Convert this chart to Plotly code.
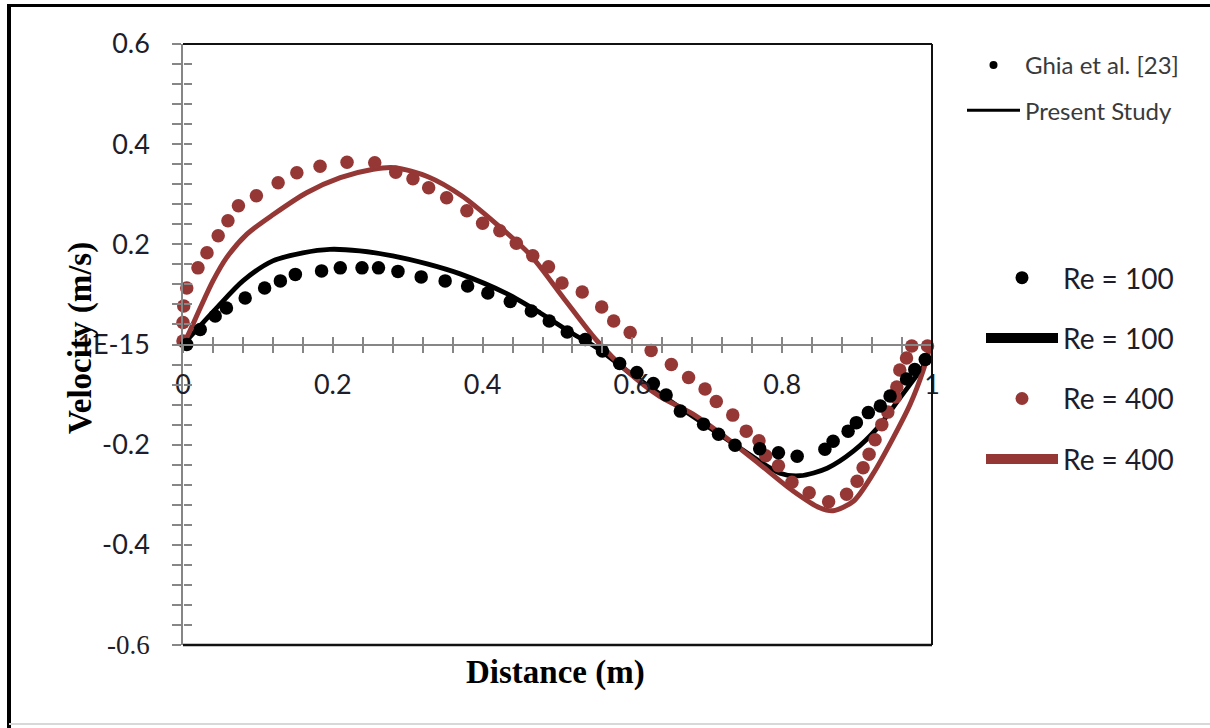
import plotly.graph_objects as go

# ---------------- data ----------------
ghia100_x = [0.005, 0.023, 0.043, 0.058, 0.083, 0.109, 0.130, 0.150, 0.185, 0.210, 0.239, 0.261,
             0.287, 0.318, 0.350, 0.380, 0.407, 0.437, 0.465, 0.489, 0.513, 0.537, 0.560, 0.583,
             0.606, 0.628, 0.645, 0.664, 0.695, 0.715, 0.737, 0.770, 0.795, 0.820, 0.857, 0.868,
             0.888, 0.899, 0.915, 0.931, 0.944, 0.966, 0.977, 0.991]
ghia100_y = [0.000, 0.030, 0.057, 0.073, 0.093, 0.113, 0.127, 0.140, 0.147, 0.153, 0.153, 0.153,
             0.146, 0.135, 0.127, 0.117, 0.103, 0.086, 0.067, 0.047, 0.025, 0.010, -0.013, -0.038,
             -0.056, -0.078, -0.101, -0.133, -0.159, -0.179, -0.201, -0.208, -0.216, -0.223, -0.209, -0.193,
             -0.173, -0.156, -0.136, -0.123, -0.103, -0.069, -0.050, -0.030]

present100_x = [0.000, 0.013, 0.045, 0.080, 0.120, 0.160, 0.196, 0.236, 0.280, 0.326, 0.370, 0.433,
                0.477, 0.521, 0.553, 0.593, 0.637, 0.690, 0.744, 0.797, 0.824, 0.860, 0.895, 0.927,
                0.957, 0.984, 0.997]
present100_y = [0.000, 0.021, 0.073, 0.127, 0.167, 0.183, 0.190, 0.187, 0.177, 0.161, 0.141, 0.101,
                0.063, 0.021, -0.007, -0.053, -0.099, -0.153, -0.207, -0.257, -0.262, -0.247, -0.213, -0.167,
                -0.107, -0.053, -0.027]

ghia400_x = [0.000, 0.000, 0.001, 0.005, 0.020, 0.032, 0.047, 0.060, 0.074, 0.098, 0.127, 0.152,
             0.183, 0.219, 0.256, 0.284, 0.307, 0.328, 0.352, 0.379, 0.400, 0.423, 0.445, 0.467,
             0.488, 0.506, 0.533, 0.559, 0.575, 0.597, 0.625, 0.652, 0.675, 0.697, 0.712, 0.734,
             0.752, 0.769, 0.778, 0.795, 0.813, 0.836, 0.862, 0.886, 0.900, 0.908, 0.916, 0.924,
             0.933, 0.941, 0.951, 0.953, 0.957, 0.966, 0.973, 0.994]
ghia400_y = [0.007, 0.044, 0.077, 0.113, 0.153, 0.183, 0.217, 0.247, 0.277, 0.297, 0.323, 0.343,
             0.356, 0.364, 0.363, 0.344, 0.331, 0.313, 0.293, 0.267, 0.242, 0.227, 0.202, 0.177,
             0.155, 0.123, 0.105, 0.075, 0.047, 0.024, -0.012, -0.040, -0.066, -0.089, -0.114, -0.141,
             -0.173, -0.192, -0.222, -0.242, -0.275, -0.296, -0.314, -0.299, -0.273, -0.246, -0.219, -0.190,
             -0.160, -0.135, -0.105, -0.085, -0.051, -0.027, -0.003, -0.003]

present400_x = [0.000, 0.007, 0.023, 0.040, 0.058, 0.085, 0.121, 0.165, 0.210, 0.254, 0.283, 0.327,
                0.372, 0.419, 0.463, 0.508, 0.553, 0.593, 0.636, 0.681, 0.726, 0.770, 0.815, 0.850,
                0.868, 0.895, 0.921, 0.948, 0.971, 0.988, 0.997]
present400_y = [0.000, 0.020, 0.073, 0.127, 0.173, 0.220, 0.260, 0.303, 0.333, 0.350, 0.353, 0.335,
                0.297, 0.240, 0.180, 0.093, 0.007, -0.053, -0.103, -0.139, -0.187, -0.239, -0.293, -0.326,
                -0.332, -0.313, -0.259, -0.187, -0.119, -0.053, -0.007]

x_tickvals = [0, 0.2, 0.4, 0.6, 0.8, 1.0]
x_ticktext = ["0", "0.2", "0.4", "0.6", "0.8", "1"]
y_tickvals = [0.6, 0.4, 0.2, 0.0, -0.2, -0.4, -0.6]
y_ticktext = ["0.6", "0.4", "0.2", "1E-15", "-0.2", "-0.4",
              "<span style='font-family:Liberation Serif'>-0.6</span>"]

# ---------------- layout geometry (pixels) ----------------
W, H = 1210, 728
L, R, T, B = 183, 932, 44, 645
BROWN = "#953735"
GREY = "#868686"
SANS = "Lato, Open Sans, sans-serif"
TICKFONT = dict(family=SANS, size=27, color="#1d1d2b")


def px(xp):
    return (xp - L) / (R - L)


def py(yp):
    return (B - yp) / (B - T)


fig = go.Figure()

# data traces
fig.add_trace(go.Scatter(x=present100_x, y=present100_y, mode="lines", showlegend=False,
                         line=dict(color="black", width=4.8, shape="spline", smoothing=0.8),
                         cliponaxis=False))
fig.add_trace(go.Scatter(x=present400_x, y=present400_y, mode="lines", showlegend=False,
                         line=dict(color=BROWN, width=5, shape="spline", smoothing=0.8),
                         cliponaxis=False))
fig.add_trace(go.Scatter(x=ghia400_x, y=ghia400_y, mode="markers", showlegend=False,
                         marker=dict(color=BROWN, size=13.5), cliponaxis=False))
fig.add_trace(go.Scatter(x=ghia100_x, y=ghia100_y, mode="markers", showlegend=False,
                         marker=dict(color="black", size=13.5), cliponaxis=False))
# empty trace so the overlaid tick axes (crossing ticks) are drawn
fig.add_trace(go.Scatter(x=[None], y=[None], xaxis="x2", yaxis="y2", showlegend=False,
                         hoverinfo="skip"))

# legend 1 entries
fig.add_trace(go.Scatter(x=[None], y=[None], mode="markers", name="Ghia et al. [23]",
                         marker=dict(color="black", size=8), legend="legend", legendgroup="a"))
fig.add_trace(go.Scatter(x=[None], y=[None], mode="lines", name="Present Study",
                         line=dict(color="black", width=3), legend="legend", legendgroup="b"))
# legend 2 entries
fig.add_trace(go.Scatter(x=[None], y=[None], mode="markers", name="Re = 100",
                         marker=dict(color="black", size=13), legend="legend2", legendgroup="c"))
fig.add_trace(go.Scatter(x=[None], y=[None], mode="lines", name="Re = 100",
                         line=dict(color="black", width=10), legend="legend2", legendgroup="d"))
fig.add_trace(go.Scatter(x=[None], y=[None], mode="markers", name="Re = 400",
                         marker=dict(color=BROWN, size=13), legend="legend2", legendgroup="e"))
fig.add_trace(go.Scatter(x=[None], y=[None], mode="lines", name="Re = 400",
                         line=dict(color=BROWN, width=10), legend="legend2", legendgroup="f"))

fig.update_layout(
    width=W, height=H,
    margin=dict(l=L, r=W - R, t=T, b=H - B),
    paper_bgcolor="white", plot_bgcolor="white",
    xaxis=dict(range=[0, 1], anchor="free", position=0.5, showline=True, linecolor=GREY, linewidth=1.5,
               tickmode="array", tickvals=x_tickvals, ticktext=x_ticktext, ticks="outside",
               ticklen=8, tickwidth=1.5, tickcolor=GREY, tickfont=TICKFONT, ticklabelstandoff=8,
               minor=dict(dtick=0.04, tick0=0, ticks="outside", ticklen=8, tickwidth=1.5, tickcolor=GREY),
               showgrid=False, zeroline=False),
    xaxis2=dict(range=[0, 1], overlaying="x", anchor="free", position=0.5, showline=False,
                tickmode="array", tickvals=x_tickvals, ticks="inside", ticklen=8, tickwidth=1.5,
                tickcolor=GREY, showticklabels=False,
                minor=dict(dtick=0.04, tick0=0, ticks="inside", ticklen=8, tickwidth=1.5, tickcolor=GREY),
                showgrid=False, zeroline=False),
    yaxis=dict(range=[-0.6, 0.6], showline=True, linecolor=GREY, linewidth=1.5,
               tickmode="array", tickvals=y_tickvals, ticktext=y_ticktext, ticks="outside",
               ticklen=9, tickwidth=1.5, tickcolor=GREY, tickfont=TICKFONT, ticklabelstandoff=17,
               minor=dict(dtick=0.04, tick0=0, ticks="outside", ticklen=9, tickwidth=1.5, tickcolor=GREY),
               showgrid=False, zeroline=False),
    yaxis2=dict(range=[-0.6, 0.6], overlaying="y", anchor="free", position=0, side="left", showline=False,
                tickmode="array", tickvals=y_tickvals, ticks="inside", ticklen=8, tickwidth=1.5,
                tickcolor=GREY, showticklabels=False,
                minor=dict(dtick=0.04, tick0=0, ticks="inside", ticklen=8, tickwidth=1.5, tickcolor=GREY),
                showgrid=False, zeroline=False),
    legend=dict(x=px(962), y=py(43), xanchor="left", yanchor="top", itemwidth=53,
                font=dict(family=SANS, size=24, color="#3a3a3a"),
                bgcolor="rgba(0,0,0,0)", tracegroupgap=11, traceorder="grouped"),
    legend2=dict(x=px(981), y=py(253), xanchor="left", yanchor="top", itemwidth=72,
                 font=dict(family=SANS, size=28, color="#1d1d2b"),
                 bgcolor="rgba(0,0,0,0)", tracegroupgap=21, traceorder="grouped"),
    annotations=[
        dict(text="Distance (m)", x=px(555), y=py(672), xref="paper", yref="paper",
             showarrow=False, xanchor="center", yanchor="middle",
             font=dict(family="Liberation Serif", size=33, color="black", weight="bold")),
        dict(text="Velocity (m/s)", x=px(80), y=py(338), xref="paper", yref="paper",
             showarrow=False, xanchor="center", yanchor="middle", textangle=-90,
             font=dict(family="Liberation Serif", size=33, color="black", weight="bold")),
    ],
    shapes=[
        # plot-area frame (top, right, bottom)
        dict(type="line", xref="paper", yref="paper", x0=0, x1=1, y0=1, y1=1,
             line=dict(color="#111111", width=2)),
        dict(type="line", xref="paper", yref="paper", x0=1, x1=1, y0=0, y1=1,
             line=dict(color="#111111", width=2)),
        dict(type="line", xref="paper", yref="paper", x0=0, x1=1, y0=0, y1=0,
             line=dict(color="#111111", width=2.5)),
        # outer image frame
        dict(type="line", xref="paper", yref="paper", x0=px(9), x1=px(9), y0=py(4), y1=py(728),
             line=dict(color="black", width=4)),
        dict(type="line", xref="paper", yref="paper", x0=px(7), x1=px(1210), y0=py(5.5), y1=py(5.5),
             line=dict(color="black", width=3)),
        dict(type="line", xref="paper", yref="paper", x0=px(9), x1=px(1210), y0=py(724), y1=py(724),
             line=dict(color="#d8d8d8", width=2)),
    ],
)

fig.write_html("out.html")
